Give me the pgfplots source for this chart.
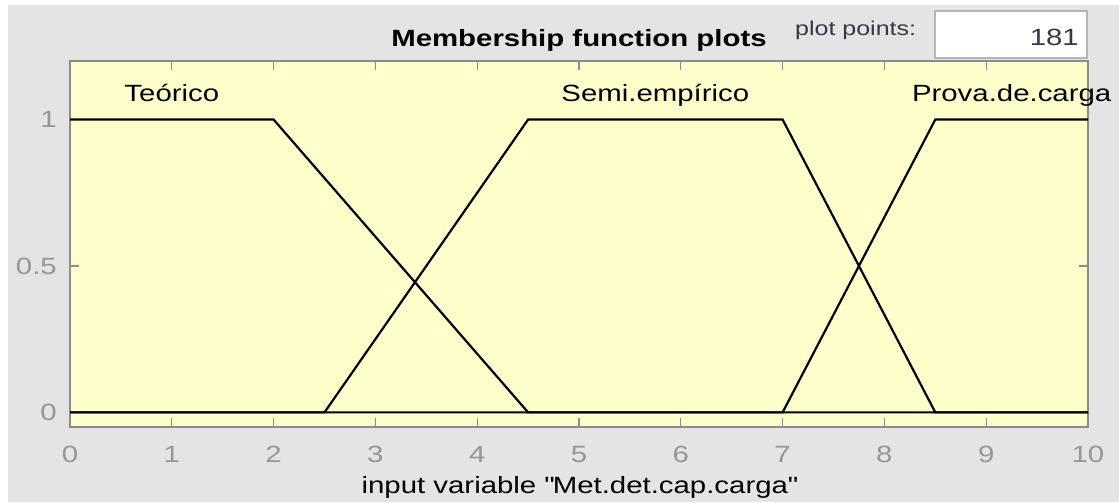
\documentclass[border=0pt]{standalone}
\usepackage{fontspec}
\setmainfont{Liberation Sans}[FakeStretch=1.25]
\usepackage{pgfplots}
\pgfplotsset{compat=1.18}
\definecolor{figbg}{RGB}{228,228,228}
\definecolor{axbg}{RGB}{255,255,204}
\definecolor{axgray}{RGB}{140,140,140}
\definecolor{ticklab}{RGB}{150,150,150}
\definecolor{boxline}{RGB}{180,180,180}
\definecolor{uitext}{RGB}{55,55,70}
\begin{document}
\fontsize{23.5bp}{28bp}\selectfont
\begin{tikzpicture}
\useasboundingbox (0,0) rectangle (1119bp,-503bp);
\fill[white] (0,0) rectangle (1119bp,-503bp);
\fill[figbg] (8bp,-5bp) rectangle (1119bp,-502bp);
% plot points field
\draw[fill=white, draw=boxline, line width=1.5bp] (935bp,-11bp) rectangle (1087bp,-58bp);
\node[anchor=base west, inner sep=0pt, text=uitext, font=\fontsize{20bp}{24bp}\selectfont] at (795bp,-35bp) {plot points:};
\node[anchor=base east, inner sep=0pt, text=uitext] at (1079bp,-45bp) {181};
\begin{axis}[
  at={(70bp,-427bp)}, anchor=south west,
  width=1018bp, height=366bp, scale only axis,
  xmin=0, xmax=10, ymin=-0.05, ymax=1.2,
  xtick={0,1,2,3,4,5,6,7,8,9,10}, ytick={0,0.5,1},
  axis background/.style={fill=axbg},
  axis line style={draw=axgray, line width=1.5bp},
  every tick/.style={draw=axgray, line width=1.2bp},
  major tick length=9bp,
  tick align=inside,
  /pgf/number format/assume math mode=true,
  every tick label/.append style={text=ticklab, inner sep=0pt},
  every x tick label/.append style={anchor=base, yshift=-35bp},
  every y tick label/.append style={anchor=east, xshift=-13bp},
  title={Membership function plots},
  title style={font=\bfseries, anchor=base, at={(0.5,1)}, yshift=9bp, inner sep=0pt},
  xlabel={input variable \textquotedbl Met.det.cap.carga\textquotedbl},
  xlabel style={at={(0.5,0)}, anchor=base, yshift=-66bp, inner sep=0pt},
  clip=false,
]
% Teórico: trapmf [0 0 2 4.5]
\addplot[black, line width=2.2bp] coordinates {(0,1) (2,1) (4.5,0) (10,0)};
% Semi.empírico: trapmf [2.5 4.5 7 8.5]
\addplot[black, line width=2.2bp] coordinates {(0,0) (2.5,0) (4.5,1) (7,1) (8.5,0) (10,0)};
% Prova.de.carga: trapmf [7 8.5 10 10]
\addplot[black, line width=2.2bp] coordinates {(0,0) (7,0) (8.5,1) (10,1)};
\node[anchor=base, inner sep=0pt] at (axis cs:1,1.06) {Teórico};
\node[anchor=base, inner sep=0pt] at (axis cs:5.75,1.06) {Semi.empírico};
\node[anchor=base, inner sep=0pt] at (axis cs:9.25,1.06) {Prova.de.carga};
\end{axis}
\end{tikzpicture}
\end{document}
